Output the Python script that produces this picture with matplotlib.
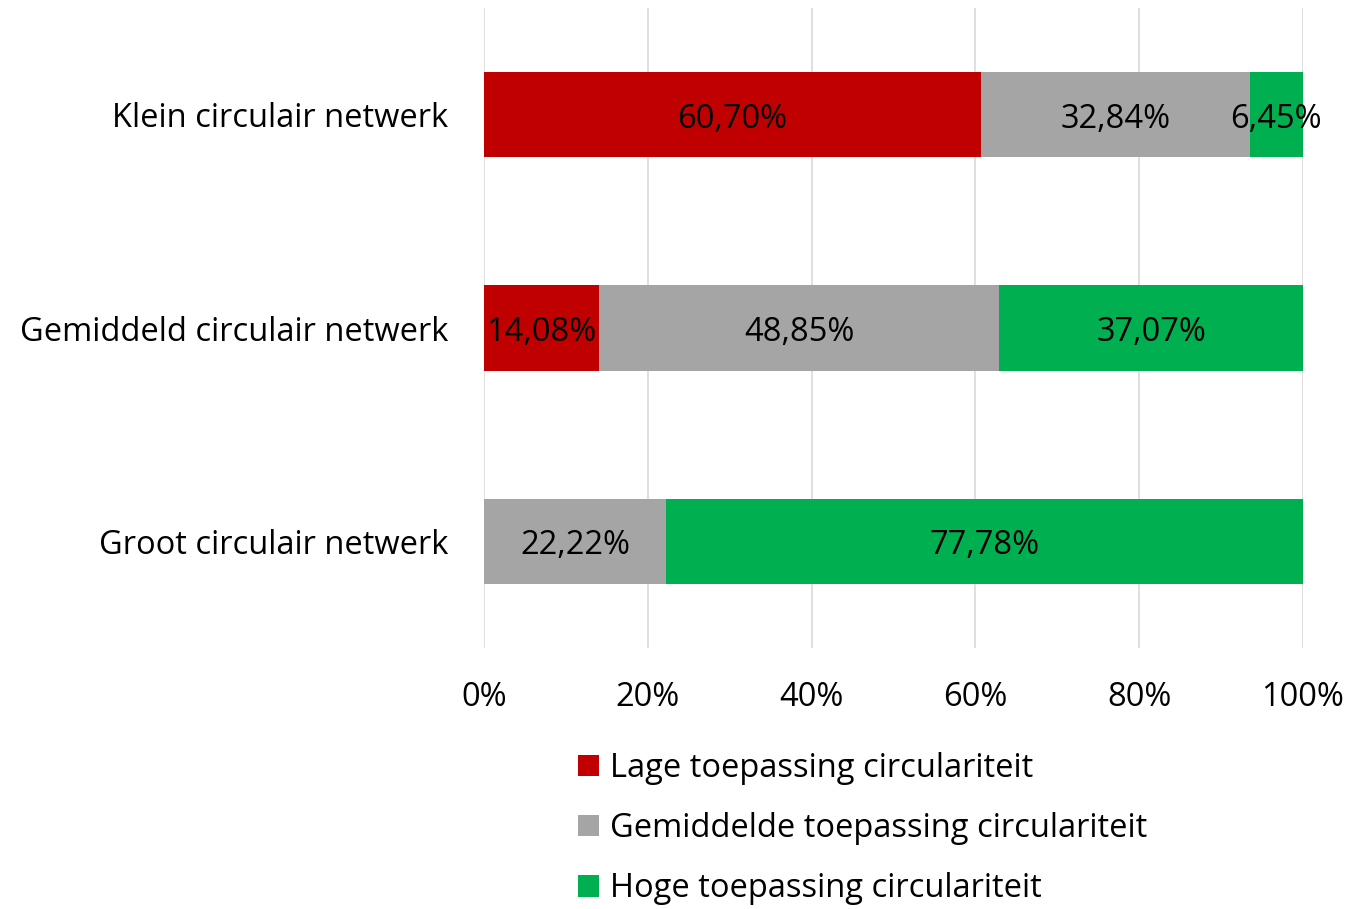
import numpy as np
import matplotlib.pyplot as plt

categories = ['Klein circulair netwerk', 'Gemiddeld circulair netwerk', 'Groot circulair netwerk']
series = ['Lage toepassing circulariteit', 'Gemiddelde toepassing circulariteit', 'Hoge toepassing circulariteit']
lage = [60.70, 14.08, 0.0]
gemiddelde = [32.84, 48.85, 22.22]
hoge = [6.45, 37.07, 77.78]
colors = ['#C00000', '#A5A5A5', '#00B050']

plt.rcParams['font.family'] = ['Open Sans', 'DejaVu Sans']
fs = 23.5

fig = plt.figure(figsize=(13.7, 9.09), dpi=100)
ax = fig.add_axes([0.3533, 0.287, 0.5977, 0.704])

y = np.arange(len(categories))
left = np.zeros(len(categories))
for vals, col, name in zip([lage, gemiddelde, hoge], colors, series):
    vals = np.array(vals)
    ax.barh(y, vals, left=left, height=0.4, color=col, label=name, zorder=2)
    for yi, l, v in zip(y, left, vals):
        if v > 0:
            ax.text(l + v / 2, yi + 0.02, ('%.2f%%' % v).replace('.', ','),
                    ha='center', va='center', fontsize=fs, color='black', zorder=3)
    left += vals

ax.set_xlim(0, 100)
ax.set_ylim(2.5, -0.5)
ax.set_yticks(y)
ax.set_yticklabels(categories, fontsize=fs)
ax.set_xticks(np.arange(0, 101, 20))
ax.set_xticklabels(['%d%%' % v for v in range(0, 101, 20)], fontsize=fs)
ax.tick_params(length=0)
ax.tick_params(axis='x', pad=24)
ax.tick_params(axis='y', pad=26)
ax.grid(axis='x', color='#d9d9d9', linewidth=1.2, zorder=0)
for s in ax.spines.values():
    s.set_visible(False)

# last legend row sits right at the bottom edge, as in the original
fig.legend(loc='upper left', bbox_to_anchor=(0.4127, 0.1875), frameon=False,
           fontsize=fs, handlelength=0.62, handleheight=0.62, handletextpad=0.35,
           labelspacing=0.84, borderaxespad=0)

fig.savefig('out.png', dpi=100)
